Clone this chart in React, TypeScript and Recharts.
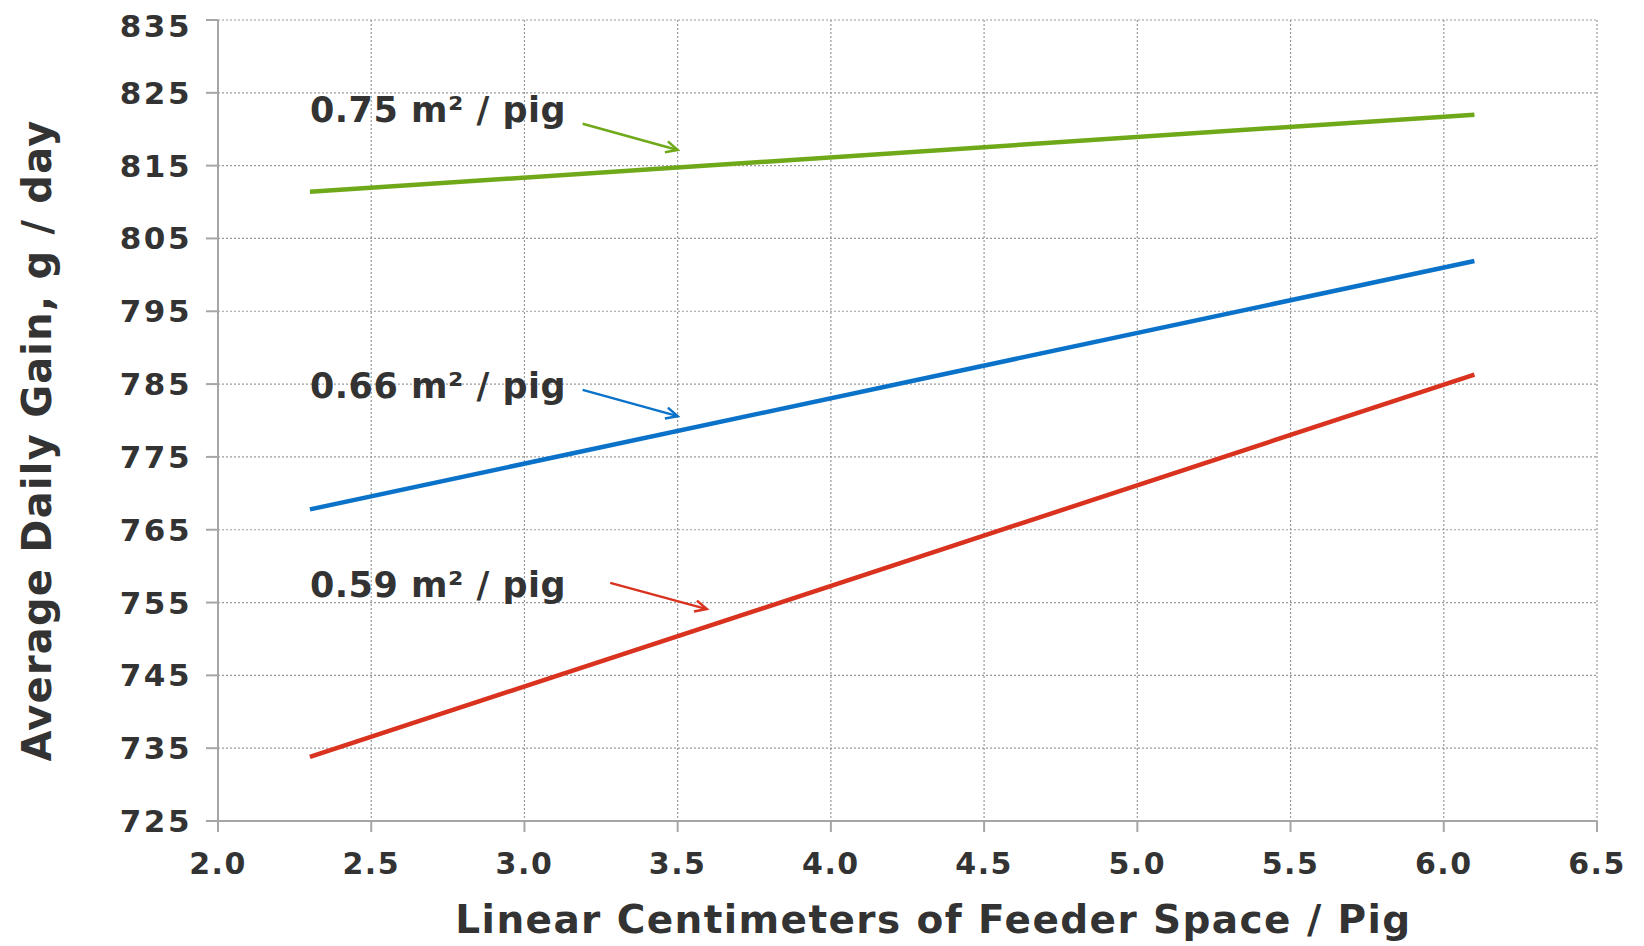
import React from 'react';
import { LineChart, Line, XAxis, YAxis, CartesianGrid, ReferenceLine, ReferenceDot } from 'recharts';

const feederSpace = [2.3, 6.1];
const gain075 = [811.4, 822.0];
const gain066 = [767.8, 801.9];
const gain059 = [733.8, 786.3];

const xTicks = [2.0, 2.5, 3.0, 3.5, 4.0, 4.5, 5.0, 5.5, 6.0, 6.5];
const yTicks = [725, 735, 745, 755, 765, 775, 785, 795, 805, 815, 825, 835];

const labels = [
  { text: '0.75 m\u00b2 / pig', x: 2.3, y: 822.6, color: '#6fa91a', from: [3.19, 820.75], to: [3.5, 817.15] },
  { text: '0.66 m\u00b2 / pig', x: 2.3, y: 784.7, color: '#0a72c9', from: [3.19, 784.2], to: [3.5, 780.6] },
  { text: '0.59 m\u00b2 / pig', x: 2.3, y: 757.4, color: '#d9321f', from: [3.28, 757.7], to: [3.595, 754.1] },
];

const data = feederSpace.map((x, i) => ({
  x,
  g075: gain075[i],
  g066: gain066[i],
  g059: gain059[i],
}));

const FONT = '"DejaVu Sans", Verdana, sans-serif';
const TEXT = '#333333';
const AXIS = '#a6a6a6';

const Arrow = (color: string) => (p: any) => {
  const { x1, y1, x2, y2 } = p;
  const ang = Math.atan2(y2 - y1, x2 - x1);
  const len = 13;
  const spread = 0.45;
  const ax = x2 - len * Math.cos(ang - spread);
  const ay = y2 - len * Math.sin(ang - spread);
  const bx = x2 - len * Math.cos(ang + spread);
  const by = y2 - len * Math.sin(ang + spread);
  return (
    <g>
      <line x1={x1} y1={y1} x2={x2} y2={y2} stroke={color} strokeWidth={2.5} />
      <polyline points={`${ax},${ay} ${x2},${y2} ${bx},${by}`} fill="none" stroke={color} strokeWidth={2.5} />
    </g>
  );
};

const YTitle = (props: any) => {
  const vb = props.viewBox;
  const cx = 29;
  const cy = vb.y + vb.height / 2 + 20;
  return (
    <text
      x={cx}
      y={cy}
      transform={`rotate(-90, ${cx}, ${cy})`}
      textAnchor="middle"
      dominantBaseline="central"
      fill={TEXT}
      fontFamily={FONT}
      fontWeight="bold"
      fontSize={40}
      letterSpacing={1.2}
    >
      Average Daily Gain, g / day
    </text>
  );
};

const XTitle = (props: any) => {
  const vb = props.viewBox;
  return (
    <text
      x={vb.x + vb.width / 2 + 26}
      y={925}
      textAnchor="middle"
      fill={TEXT}
      fontFamily={FONT}
      fontWeight="bold"
      fontSize={39}
      letterSpacing={1.4}
    >
      Linear Centimeters of Feeder Space / Pig
    </text>
  );
};

export default function App() {
  return (
    <div style={{ width: 1628, height: 938, background: '#fff' }}>
      <LineChart width={1628} height={938} data={data} margin={{ top: 12, right: 39, left: 0, bottom: 0 }}>
        <CartesianGrid stroke="#999" strokeDasharray="2 2" strokeWidth={1.2} />
        <XAxis
          dataKey="x"
          type="number"
          domain={[2, 6.5]}
          ticks={xTicks}
          tickFormatter={(v: number) => v.toFixed(1)}
          height={125}
          stroke={AXIS}
          strokeWidth={2}
          tickSize={11}
          tickMargin={21}
          tick={{ fill: TEXT, fontFamily: FONT, fontWeight: 'bold', fontSize: 30, letterSpacing: 1.5 }}
          label={{ content: XTitle }}
        />
        <YAxis
          type="number"
          domain={[725, 835]}
          ticks={yTicks}
          width={210}
          stroke={AXIS}
          strokeWidth={2}
          tickSize={12}
          tickMargin={14}
          tick={{ fill: TEXT, fontFamily: FONT, fontWeight: 'bold', fontSize: 31, letterSpacing: 2.5 }}
          label={{ content: YTitle }}
        />
        <Line dataKey="g075" stroke="#6fa91a" strokeWidth={4.5} dot={false} isAnimationActive={false} />
        <Line dataKey="g066" stroke="#0a72c9" strokeWidth={4.5} dot={false} isAnimationActive={false} />
        <Line dataKey="g059" stroke="#d9321f" strokeWidth={4.5} dot={false} isAnimationActive={false} />
        {labels.map((l) => (
          <ReferenceLine
            key={'a' + l.text}
            segment={[
              { x: l.from[0], y: l.from[1] },
              { x: l.to[0], y: l.to[1] },
            ]}
            shape={Arrow(l.color)}
          />
        ))}
        {labels.map((l) => (
          <ReferenceDot
            key={'t' + l.text}
            x={l.x}
            y={l.y}
            r={0}
            shape={(p: any) => (
              <text
                x={p.cx}
                y={p.cy}
                dominantBaseline="central"
                fill={TEXT}
                fontFamily={FONT}
                fontWeight="bold"
                fontSize={35}
                letterSpacing={0.5}
              >
                {l.text}
              </text>
            )}
          />
        ))}
      </LineChart>
    </div>
  );
}
